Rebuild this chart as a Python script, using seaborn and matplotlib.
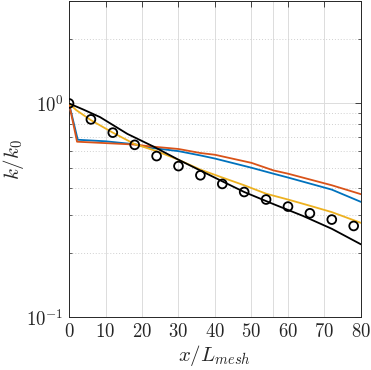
import numpy as np
import pandas as pd
import matplotlib
matplotlib.use("Agg")
import matplotlib.pyplot as plt
import matplotlib.ticker as mticker
import seaborn as sns

# ---- data ----
x_exp = [0, 6, 12, 18, 24, 30, 36, 42, 48, 54, 60, 66, 72, 78]
k_exp = [1.0, 0.842, 0.73, 0.64, 0.567, 0.509, 0.461, 0.42, 0.385, 0.355, 0.329, 0.306, 0.286, 0.267]

x_black = [0, 4, 8.5, 16, 23, 30, 36, 42, 48, 56, 64, 72, 80]
k_black = [1.0, 0.935, 0.863, 0.72, 0.63, 0.545, 0.485, 0.432, 0.385, 0.338, 0.298, 0.259, 0.219]

x_yellow = [0, 2, 6, 12, 18, 24, 30, 36, 42, 48, 54, 60, 66, 72, 80]
k_yellow = [1.0, 0.93, 0.835, 0.73, 0.645, 0.598, 0.545, 0.49, 0.45, 0.414, 0.378, 0.355, 0.332, 0.31, 0.276]

x_blue = [0, 2.4, 10, 18, 22, 30, 36, 40, 50, 56, 60, 72, 80]
k_blue = [1.0, 0.676, 0.665, 0.644, 0.621, 0.598, 0.571, 0.552, 0.5, 0.469, 0.45, 0.395, 0.346]

x_red = [0, 2.2, 10, 18, 22, 30, 36, 40, 50, 56, 60, 72, 80]
k_red = [1.0, 0.662, 0.652, 0.642, 0.63, 0.612, 0.586, 0.575, 0.527, 0.486, 0.469, 0.414, 0.376]

x_ticks = [0, 10, 20, 30, 40, 50, 60, 70, 80]

sns.set_theme(style="white")
plt.rcParams["font.family"] = ["DejaVu Serif"]
plt.rcParams["mathtext.fontset"] = "cm"

lines = pd.concat([
    pd.DataFrame({"x": x_blue, "k": k_blue, "s": "blue"}),
    pd.DataFrame({"x": x_red, "k": k_red, "s": "red"}),
    pd.DataFrame({"x": x_yellow, "k": k_yellow, "s": "yellow"}),
    pd.DataFrame({"x": x_black, "k": k_black, "s": "black"}),
])
palette = {"blue": "#0072BD", "red": "#D95319", "yellow": "#EDB120", "black": "#000000"}

fig = plt.figure(figsize=(3.71, 3.70), dpi=100)
ax = fig.add_axes([0.186, 0.143, 0.787, 0.853])

sns.lineplot(data=lines, x="x", y="k", hue="s", palette=palette, sort=False,
             estimator=None, linewidth=1.3, legend=False, ax=ax, zorder=3)
sns.scatterplot(x=x_exp, y=k_exp, ax=ax, marker="o", s=40, facecolor="none",
                edgecolor="black", linewidth=1.3, zorder=4)

ax.set_yscale("log")
ax.set_xlim(0, 80)
ax.set_ylim(0.1, 3)
ax.set_xticks(x_ticks)
ax.set_xticklabels([f"${t}$" for t in x_ticks])
ax.xaxis.set_minor_locator(mticker.FixedLocator([56]))
ax.yaxis.set_major_locator(mticker.FixedLocator([0.1, 1]))
ax.yaxis.set_major_formatter(mticker.FixedFormatter([r"$10^{-1}$", r"$10^{0}$"]))
ax.yaxis.set_minor_locator(mticker.LogLocator(base=10, subs=np.arange(2, 10)))
ax.yaxis.set_minor_formatter(mticker.NullFormatter())

ax.grid(True, which="major", color="#dcdcdc", linewidth=0.7, linestyle="-")
ax.grid(True, which="minor", axis="y", color="#d0d0d0", linewidth=0.7, linestyle=(0, (1, 2)))
ax.grid(True, which="minor", axis="x", color="#dcdcdc", linewidth=0.7, linestyle="-")
ax.set_axisbelow(True)

ax.tick_params(axis="both", which="major", direction="in", length=4, width=0.6,
               top=True, right=True, labelsize=13.5, colors="#262626", pad=4)
ax.tick_params(axis="y", which="minor", direction="in", length=2.2, width=0.5,
               left=True, right=True)
ax.tick_params(axis="x", which="minor", length=0)
for sp in ax.spines.values():
    sp.set_color("#262626")
    sp.set_linewidth(0.7)

ax.set_xlabel(r"$x/L_{mesh}$", fontsize=15, labelpad=2)
ax.set_ylabel(r"$k/k_0$", fontsize=15, labelpad=0)

fig.savefig("out.png", dpi=100)
